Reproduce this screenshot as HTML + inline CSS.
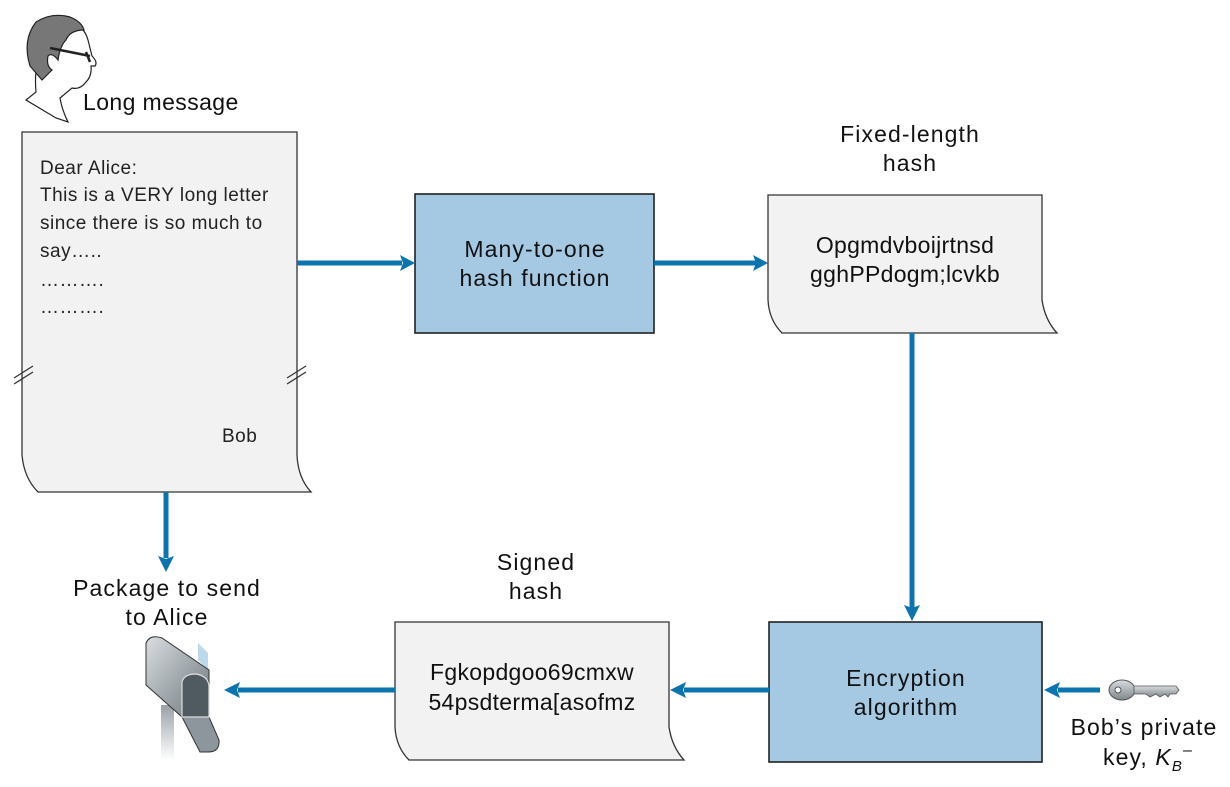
<!DOCTYPE html>
<html><head><meta charset="utf-8"><style>
html,body{margin:0;padding:0;background:#fff;}
svg{display:block;font-family:"Liberation Sans",sans-serif;}
.l{font-size:23px;letter-spacing:1.1px;fill:#111;}
.t{font-size:19px;letter-spacing:0.5px;fill:#222;}
</style></head><body>
<svg width="1230" height="787" viewBox="0 0 1230 787" xmlns="http://www.w3.org/2000/svg">
<defs>
<linearGradient id="mb" x1="0" y1="0" x2="1" y2="1"><stop offset="0" stop-color="#d8dde0"/><stop offset="1" stop-color="#6d767c"/></linearGradient>
<linearGradient id="pole" x1="0" y1="0" x2="0" y2="1"><stop offset="0" stop-color="#9aa2a8"/><stop offset="1" stop-color="#fff"/></linearGradient>
<linearGradient id="key" x1="0" y1="0" x2="0" y2="1"><stop offset="0" stop-color="#d8dcde"/><stop offset="1" stop-color="#80888d"/></linearGradient>
</defs>
<!-- Bob head -->
<g stroke="#222" stroke-width="1.2" fill="#fff">
<path d="M36 92 Q34 70 40 52 Q48 28 70 24 Q84 25 88 40 L92 56 Q98 62 95 66 L91 66 Q92 76 86 82 Q80 90 72 88 L60 98 Q62 110 68 122 L56 118 L26 100 Z"/>
<path d="M30 66 Q22 40 36 22 Q52 12 70 17 Q82 22 84 30 Q70 30 66 40 Q60 46 58 60 Q52 52 48 56 Q46 66 52 70 L42 80 Z" fill="#777"/>
<path d="M50 48 L90 56 M86 52 L90 62" stroke-width="2.5"/>
</g>
<text x="83" y="110" class="l" style="letter-spacing:0.4px">Long message</text>
<!-- letter -->
<path d="M22 132 L297 132 L297 455 Q298 478 311 492 L38 492 Q24 478 22 455 Z" fill="#f2f2f2" stroke="#333" stroke-width="1.3"/>
<path d="M14 378 L33 366 M14 384 L33 372 M287 378 L306 366 M287 384 L306 372" stroke="#333" stroke-width="1.3"/>
<g class="t">
<text x="40" y="174">Dear Alice:</text>
<text x="40" y="201">This is a VERY long letter</text>
<text x="40" y="229">since there is so much to</text>
<text x="40" y="257">say…..</text>
<text x="40" y="286">……….</text>
<text x="40" y="313">……….</text>
<text x="222" y="442">Bob</text>
</g>
<!-- hash function box -->
<rect x="415" y="194" width="239" height="139" fill="#a5c9e3" stroke="#222" stroke-width="1.6"/>
<text x="535" y="257" class="l" text-anchor="middle">Many-to-one</text>
<text x="535" y="286" class="l" text-anchor="middle">hash function</text>
<!-- fixed hash doc -->
<text x="910" y="142" class="l" text-anchor="middle">Fixed-length</text>
<text x="910" y="171" class="l" text-anchor="middle">hash</text>
<path d="M768 195 L1042 195 L1042 300 Q1045 320 1057 333 L782 333 Q769 320 768 300 Z" fill="#f2f2f2" stroke="#333" stroke-width="1.3"/>
<text x="905" y="253" class="l" text-anchor="middle" style="letter-spacing:0.3px">Opgmdvboijrtnsd</text>
<text x="905" y="282" class="l" text-anchor="middle" style="letter-spacing:0.3px">gghPPdogm;lcvkb</text>
<!-- encryption -->
<rect x="769" y="622" width="273" height="140" fill="#a5c9e3" stroke="#222" stroke-width="1.6"/>
<text x="906" y="686" class="l" text-anchor="middle">Encryption</text>
<text x="906" y="715" class="l" text-anchor="middle">algorithm</text>
<!-- signed hash -->
<text x="536" y="570" class="l" text-anchor="middle">Signed</text>
<text x="536" y="599" class="l" text-anchor="middle">hash</text>
<path d="M395 622 L669 622 L669 727 Q672 747 684 760 L409 760 Q396 747 395 727 Z" fill="#f2f2f2" stroke="#333" stroke-width="1.3"/>
<text x="532" y="680" class="l" text-anchor="middle" style="letter-spacing:0.3px">Fgkopdgoo69cmxw</text>
<text x="532" y="710" class="l" text-anchor="middle" style="letter-spacing:0.3px">54psdterma[asofmz</text>
<!-- package -->
<text x="167" y="596" class="l" text-anchor="middle">Package to send</text>
<text x="167" y="625" class="l" text-anchor="middle">to Alice</text>
<rect x="161" y="705" width="13" height="55" fill="url(#pole)"/>
<path d="M198 643 L208 653 L208 670 L198 660 Z" fill="#bcd8ea"/>
<path d="M146 643 Q150 634 162 638 L209 670 L209 718 L182 717 L146 685 Z" fill="url(#mb)" stroke="#333" stroke-width="1"/>
<path d="M182 717 L209 717 L219 740 Q220 752 208 752 L200 752 Z" fill="#8d969c" stroke="#333" stroke-width="1"/>
<path d="M182 717 L182 682 Q184 674 196 674 Q208 676 209 686 L209 717 Z" fill="#4f5a61" stroke="#ddd" stroke-width="1.2"/>
<!-- key -->
<g>
<ellipse cx="1122" cy="690" rx="13" ry="10" fill="url(#key)" stroke="#555"/>
<circle cx="1118" cy="690" r="3" fill="#fff" stroke="#555"/>
<path d="M1134 686 L1176 686 L1179 690 L1176 694 L1170 694 L1168 697 L1165 694 L1160 697 L1156 694 L1150 697 L1146 694 L1134 694 Z" fill="url(#key)" stroke="#555" stroke-width="0.8"/>
</g>
<text x="1144" y="735" class="l" text-anchor="middle">Bob’s private</text>
<text x="1103" y="765" class="l">key, <tspan font-style="italic">K</tspan><tspan font-style="italic" font-size="15" dy="6">B</tspan><tspan font-size="16" dy="-16">–</tspan></text>
<!-- arrows -->
<g stroke="#0b73ae" stroke-width="5" fill="none">
<path d="M297 263 L402 263"/>
<path d="M654 263 L756 263"/>
<path d="M912 333 L912 608"/>
<path d="M769 690 L684 690"/>
<path d="M395 690 L238 690"/>
<path d="M1100 690 L1058 690"/>
<path d="M166 492 L166 558"/>
</g>
<g fill="#0b73ae">
<path d="M415 263 L400 255 L403 263 L400 271 Z"/>
<path d="M768 263 L753 255 L756 263 L753 271 Z"/>
<path d="M912 621 L904 605 L912 608 L920 605 Z"/>
<path d="M670 690 L686 682 L683 690 L686 698 Z"/>
<path d="M224 690 L240 682 L237 690 L240 698 Z"/>
<path d="M1044 690 L1060 682 L1057 690 L1060 698 Z"/>
<path d="M166 572 L158 556 L166 559 L174 556 Z"/>
</g>
</svg>
</body></html>
